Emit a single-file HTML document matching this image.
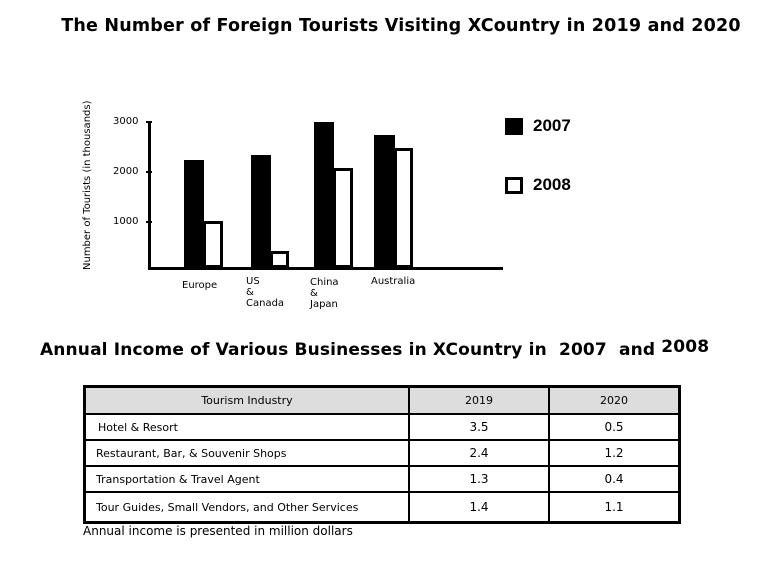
<!DOCTYPE html>
<html><head><style>
body{margin:0;background:#fff;width:760px;height:561px;overflow:hidden;position:relative;font-family:"DejaVu Sans","Liberation Sans",sans-serif;}
.a{position:absolute;white-space:nowrap}
.b{position:absolute;background:#000}
.w{position:absolute;background:#fff;border:3px solid #000;box-sizing:border-box}
td{border:2px solid #000;font-size:11px;padding:0;height:24px}
</style></head><body>
<div class="a" style="left:0;width:802px;text-align:center;top:16px;font-weight:bold;font-size:17.5px;letter-spacing:0.2px">The Number of Foreign Tourists Visiting XCountry in 2019 and 2020</div>
<div class="a" style="left:82px;top:270px;transform:rotate(-90deg);transform-origin:0 0;font-size:10px;">Number of Tourists (in thousands)</div>
<div class="a" style="left:113px;top:116px;font-size:10px">3000</div>
<div class="a" style="left:113px;top:166px;font-size:10px">2000</div>
<div class="a" style="left:113px;top:216px;font-size:10px">1000</div>
<div class="b" style="left:146px;top:121px;width:6px;height:2px"></div>
<div class="b" style="left:146px;top:171px;width:6px;height:2px"></div>
<div class="b" style="left:146px;top:221px;width:6px;height:2px"></div>
<div class="b" style="left:148px;top:122px;width:3px;height:148px"></div>
<div class="b" style="left:148px;top:267px;width:355px;height:3px"></div>
<div class="b" style="left:184px;top:160px;width:20px;height:108px"></div>
<div class="w" style="left:203px;top:221px;width:20px;height:47px"></div>
<div class="b" style="left:251px;top:155px;width:20px;height:113px"></div>
<div class="w" style="left:270px;top:251px;width:19px;height:17px"></div>
<div class="b" style="left:314px;top:122px;width:20px;height:146px"></div>
<div class="w" style="left:333px;top:168px;width:20px;height:100px"></div>
<div class="b" style="left:374px;top:135px;width:21px;height:133px"></div>
<div class="w" style="left:394px;top:148px;width:19px;height:120px"></div>
<div class="a" style="left:182px;top:280px;font-size:10px">Europe</div>
<div class="a" style="left:246px;top:276px;font-size:10px;line-height:11px">US<br>&amp;<br>Canada</div>
<div class="a" style="left:310px;top:277px;font-size:10px;line-height:11px">China<br>&amp;<br>Japan</div>
<div class="a" style="left:371px;top:276px;font-size:10px">Australia</div>
<div class="b" style="left:505px;top:118px;width:18px;height:17px"></div>
<div class="a" style="left:533px;top:116px;font-weight:bold;font-size:17px;font-family:'Liberation Sans',sans-serif">2007</div>
<div class="w" style="left:505px;top:177px;width:18px;height:17px"></div>
<div class="a" style="left:533px;top:175px;font-weight:bold;font-size:17px;font-family:'Liberation Sans',sans-serif">2008</div>
<div class="a" style="left:40px;top:340px;font-weight:bold;font-size:17px;letter-spacing:0.15px">Annual Income of Various Businesses in XCountry in &nbsp;2007 &nbsp;and <span style="position:relative;top:-3px">2008</span></div>
<table style="position:absolute;left:83px;top:385px;width:598px;border-collapse:collapse;border:3px solid #000">
<tr style="background:#ddd;text-align:center"><td style="width:322px;height:25px">Tourism Industry</td><td style="width:138px">2019</td><td>2020</td></tr>
<tr><td style="padding-left:12px">Hotel &amp; Resort</td><td align=center style="font-size:12px">3.5</td><td align=center style="font-size:12px">0.5</td></tr>
<tr><td style="padding-left:10px">Restaurant, Bar, &amp; Souvenir Shops</td><td align=center style="font-size:12px">2.4</td><td align=center style="font-size:12px">1.2</td></tr>
<tr><td style="padding-left:10px">Transportation &amp; Travel Agent</td><td align=center style="font-size:12px">1.3</td><td align=center style="font-size:12px">0.4</td></tr>
<tr><td style="padding-left:10px;height:28px">Tour Guides, Small Vendors, and Other Services</td><td align=center style="font-size:12px">1.4</td><td align=center style="font-size:12px">1.1</td></tr>
</table>
<div class="a" style="left:83px;top:524px;font-size:12px">Annual income is presented in million dollars</div>
</body></html>
